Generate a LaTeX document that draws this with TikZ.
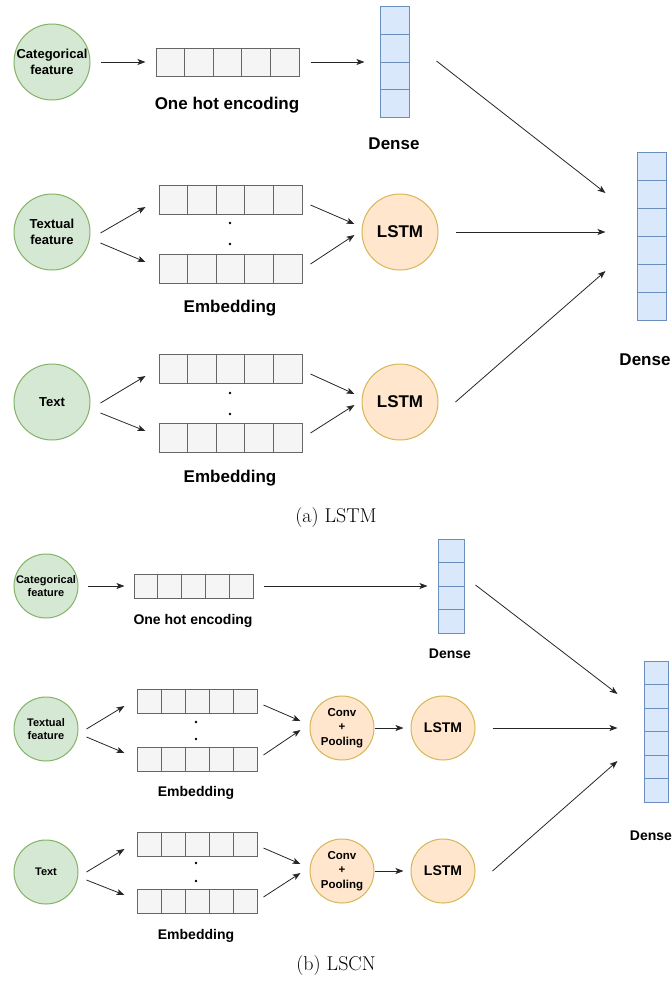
\documentclass[tikz,border=0pt]{standalone}
\usepackage{fontspec}
\setsansfont{Liberation Sans}
\usetikzlibrary{calc,arrows.meta}
\definecolor{gfill}{HTML}{D5E8D4}\definecolor{gline}{HTML}{82B366}
\definecolor{ofill}{HTML}{FFE6CC}\definecolor{oline}{HTML}{D6B656}
\definecolor{bfill}{HTML}{DAE8FC}\definecolor{bline}{HTML}{6C8EBF}
\definecolor{cfill}{HTML}{F5F5F5}\definecolor{cline}{HTML}{666666}
\tikzset{
  feat/.style={circle,draw=gline,fill=gfill,line width=1pt,minimum size=#1,inner sep=0pt,align=center},
  proc/.style={circle,draw=oline,fill=ofill,line width=1pt,minimum size=#1,inner sep=0pt,align=center},
  cellbox/.style={rectangle,draw=cline,fill=cfill,line width=1pt,inner sep=0pt},
  densebox/.style={rectangle,draw=bline,fill=bfill,line width=1pt,inner sep=0pt},
  hcells/.style={path picture={\foreach \k in {1,...,#1}{\draw[cline,line width=1pt] ($(path picture bounding box.south west)!{\k/#1}!(path picture bounding box.south east)$) -- ($(path picture bounding box.north west)!{\k/#1}!(path picture bounding box.north east)$);}}},
  vcells/.style={path picture={\foreach \k in {1,...,#1}{\draw[bline,line width=1pt] ($(path picture bounding box.north west)!{\k/#1}!(path picture bounding box.south west)$) -- ($(path picture bounding box.north east)!{\k/#1}!(path picture bounding box.south east)$);}}},
  arr/.style={draw=black!85,line width=0.8pt,-{Stealth[length=8pt,width=6pt,inset=2pt]}},
  dotmark/.style={circle,fill=black,inner sep=0pt,minimum size=2.8pt},
  lblA/.style={font=\fontsize{17}{20}\selectfont\sffamily\bfseries},
  lblB/.style={font=\fontsize{14}{17}\selectfont\sffamily\bfseries},
  capt/.style={font=\fontsize{20}{24}\selectfont},
}
\begin{document}
\begin{tikzpicture}[x=1pt,y=-1pt]
\useasboundingbox (0,0) rectangle (672,989);
% ================= (a) =================
\node[feat=76pt,font=\fontsize{13}{15.5}\selectfont\sffamily\bfseries] (cat1) at (52,62) {Categorical\\feature};
\node[cellbox,hcells=5,minimum width=143pt,minimum height=28pt] (oh1) at (227.5,62) {};
\node[lblA] (oh1l) at (227,105) {One hot encoding};
\node[densebox,vcells=4,minimum width=29pt,minimum height=111pt] (den1) at (394.5,62) {};
\node[lblA] (den1l) at (394,144) {Dense};

\node[feat=76pt,font=\fontsize{13}{15.5}\selectfont\sffamily\bfseries] (tf1) at (52,232) {Textual\\feature};
\node[cellbox,hcells=5,minimum width=143pt,minimum height=29pt] (e1a) at (230.5,199.5) {};
\node[cellbox,hcells=5,minimum width=143pt,minimum height=29pt] (e1b) at (230.5,268.5) {};
\node[dotmark] (d1a) at (230,223) {};
\node[dotmark] (d1b) at (230,244) {};
\node[lblA] (e1l) at (230,308) {Embedding};
\node[proc=76pt,font=\fontsize{17}{20}\selectfont\sffamily\bfseries] (ls1) at (400,232) {LSTM};

\node[feat=76pt,font=\fontsize{13}{15.5}\selectfont\sffamily\bfseries] (tx1) at (52,402) {Text};
\node[cellbox,hcells=5,minimum width=143pt,minimum height=29pt] (e2a) at (230.5,368.5) {};
\node[cellbox,hcells=5,minimum width=143pt,minimum height=29pt] (e2b) at (230.5,437.5) {};
\node[dotmark] (d2a) at (230,393) {};
\node[dotmark] (d2b) at (230,414) {};
\node[lblA] (e2l) at (230,478) {Embedding};
\node[proc=76pt,font=\fontsize{17}{20}\selectfont\sffamily\bfseries] (ls2) at (400,402) {LSTM};

\node[densebox,vcells=6,minimum width=29pt,minimum height=168pt] (fin1) at (651.5,236) {};
\node[lblA] (fin1l) at (645,360) {Dense};

\draw[arr] ($(cat1.east)+(10,0)$) -- ($(oh1.west)+(-10,0)$);
\draw[arr] ($(oh1.east)+(11,0)$) -- ($(den1.west)+(-15,0)$);
\draw[arr] ($(den1.east)+(27,-1)$) -- ($(fin1.west)+(-31,-43)$);
\draw[arr] ($(tf1.east)+(10,1)$) -- ($(e1a.west)+(-13,7.5)$);
\draw[arr] ($(tf1.east)+(10,11)$) -- ($(e1b.west)+(-13,-6.5)$);
\draw[arr] ($(e1a.east)+(8,5.5)$) -- ($(ls1.west)+(-7,-8)$);
\draw[arr] ($(e1b.east)+(8,-4.5)$) -- ($(ls1.west)+(-7,3)$);
\draw[arr] ($(tx1.east)+(10,1)$) -- ($(e2a.west)+(-13,7.5)$);
\draw[arr] ($(tx1.east)+(10,11)$) -- ($(e2b.west)+(-13,-6.5)$);
\draw[arr] ($(e2a.east)+(8,5.5)$) -- ($(ls2.west)+(-7,-8)$);
\draw[arr] ($(e2b.east)+(8,-4.5)$) -- ($(ls2.west)+(-7,3)$);
\draw[arr] ($(ls1.east)+(17,0)$) -- ($(fin1.west)+(-31,-4)$);
\draw[arr] ($(ls2.east)+(17,0)$) -- ($(fin1.west)+(-31,35)$);

\node[capt] (capa) at (336,518) {(a) LSTM};

% ================= (b) =================
\node[feat=64pt,font=\fontsize{11}{13}\selectfont\sffamily\bfseries] (cat2) at (46,586) {Categorical\\feature};
\node[cellbox,hcells=5,minimum width=119pt,minimum height=24pt] (oh2) at (193.5,586) {};
\node[lblB] (oh2l) at (193,621) {One hot encoding};
\node[densebox,vcells=4,minimum width=26pt,minimum height=94pt] (den2) at (451,586) {};
\node[lblB] (den2l) at (450,654) {Dense};

\node[feat=64pt,font=\fontsize{11}{13}\selectfont\sffamily\bfseries] (tf2) at (46,729) {Textual\\feature};
\node[cellbox,hcells=5,minimum width=120pt,minimum height=24pt] (e3a) at (197,701) {};
\node[cellbox,hcells=5,minimum width=120pt,minimum height=24pt] (e3b) at (197,759) {};
\node[dotmark] (d3a) at (196,722) {};
\node[dotmark] (d3b) at (196,739) {};
\node[lblB] (e3l) at (196,793) {Embedding};
\node[proc=64pt,font=\fontsize{11.5}{14.5}\selectfont\sffamily\bfseries] (cv1) at (342,728) {Conv\\+\\Pooling};
\node[proc=64pt,font=\fontsize{14}{17}\selectfont\sffamily\bfseries] (ls3) at (443,728) {LSTM};

\node[feat=64pt,font=\fontsize{11}{13}\selectfont\sffamily\bfseries] (tx2) at (46,872) {Text};
\node[cellbox,hcells=5,minimum width=120pt,minimum height=24pt] (e4a) at (197,844) {};
\node[cellbox,hcells=5,minimum width=120pt,minimum height=24pt] (e4b) at (197,901) {};
\node[dotmark] (d4a) at (196,863) {};
\node[dotmark] (d4b) at (196,881) {};
\node[lblB] (e4l) at (196,936) {Embedding};
\node[proc=64pt,font=\fontsize{11.5}{14.5}\selectfont\sffamily\bfseries] (cv2) at (342,871) {Conv\\+\\Pooling};
\node[proc=64pt,font=\fontsize{14}{17}\selectfont\sffamily\bfseries] (ls4) at (443,871) {LSTM};

\node[densebox,vcells=6,minimum width=24pt,minimum height=141pt] (fin2) at (656,731.5) {};
\node[lblB] (fin2l) at (651,836) {Dense};

\draw[arr] ($(cat2.east)+(9,0)$) -- ($(oh2.west)+(-9,0)$);
\draw[arr] ($(oh2.east)+(10,0)$) -- ($(den2.west)+(-10,0)$);
\draw[arr] ($(den2.east)+(11,-1)$) -- ($(fin2.west)+(-26,-37.5)$);
\draw[arr] ($(tf2.east)+(8,0)$) -- ($(e3a.west)+(-12,5)$);
\draw[arr] ($(tf2.east)+(8,8)$) -- ($(e3b.west)+(-12,-6)$);
\draw[arr] ($(e3a.east)+(6,4)$) -- ($(cv1.west)+(-9,-7)$);
\draw[arr] ($(e3b.east)+(6,-4)$) -- ($(cv1.west)+(-9,2)$);
\draw[arr] (cv1.east) -- ($(ls3.west)+(-7,0)$);
\draw[arr] ($(tx2.east)+(8,0)$) -- ($(e4a.west)+(-12,5)$);
\draw[arr] ($(tx2.east)+(8,8)$) -- ($(e4b.west)+(-12,-6)$);
\draw[arr] ($(e4a.east)+(6,4)$) -- ($(cv2.west)+(-9,-7)$);
\draw[arr] ($(e4b.east)+(6,-4)$) -- ($(cv2.west)+(-9,2)$);
\draw[arr] (cv2.east) -- ($(ls4.west)+(-7,0)$);
\draw[arr] ($(ls3.east)+(17,0)$) -- ($(fin2.west)+(-26,-3.5)$);
\draw[arr] ($(ls4.east)+(17,0)$) -- ($(fin2.west)+(-26,29.5)$);

\node[capt] (capb) at (336,965) {(b) LSCN};
\end{tikzpicture}
\end{document}
